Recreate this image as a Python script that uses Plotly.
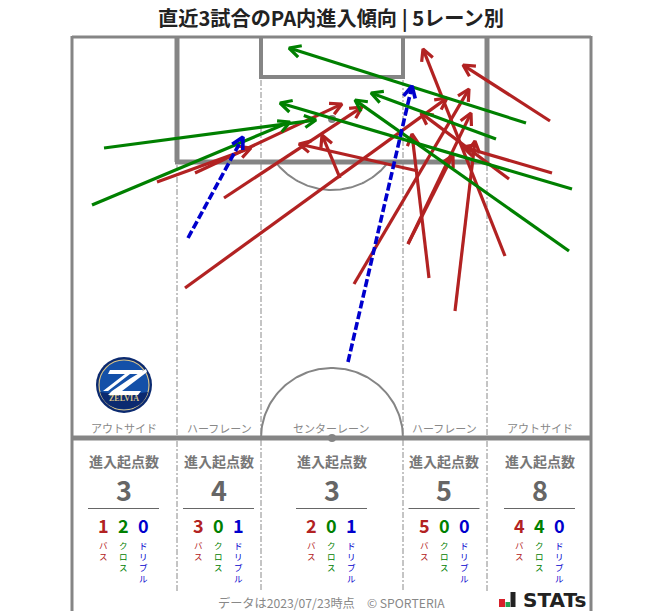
import numpy as np
import plotly.graph_objects as go

FONT = "Noto Sans CJK JP"
RED, GREEN, BLUE = "#b22222", "#008000", "#0000cd"
LINE = "#858585"

# arrows, in chart units (origin top-left of the picture)
pass_start_x = [157, 185, 224, 195, 354, 340, 429, 455, 408, 408, 418, 550, 505, 552, 509]
pass_start_y = [182, 288, 198, 173, 284, 178, 278, 311, 244, 244, 171, 121, 256, 173, 179]
pass_end_x = [251, 447, 362, 342, 469, 322, 412, 475, 471, 453, 299, 463, 423, 463, 421]
pass_end_y = [148, 98, 107, 104, 89, 135, 134, 141, 113, 155, 144, 65, 49, 147, 113]

cross_start_x = [104, 92, 526, 496, 572, 569]
cross_start_y = [148, 205, 123, 139, 189, 251]
cross_end_x = [316, 290, 289, 371, 280, 355]
cross_end_y = [120, 122, 48, 93, 103, 100]

drib_start_x = [188, 348]
drib_start_y = [238, 362]
drib_end_x = [243, 412]
drib_end_y = [137, 86]

lane_labels = ["アウトサイド", "ハーフレーン", "センターレーン", "ハーフレーン", "アウトサイド"]
lane_label_x = [124, 219, 331, 444, 540]
lane_totals = [3, 4, 3, 5, 8]
lane_pass = [1, 3, 2, 5, 4]
lane_cross = [2, 0, 0, 0, 4]
lane_drib = [0, 1, 1, 0, 0]
kinds = ["バス", "クロス", "ドリブル"]
kind_colors = [RED, GREEN, BLUE]
lane_center_x = [123.5, 218.5, 331.5, 444, 539.5]


def arrow_paths(x0, y0, x1, y1, L=11.5, W=6.0):
    sx, sy, hx, hy = [], [], [], []
    for a, b, c, d in zip(x0, y0, x1, y1):
        ux, uy = c - a, d - b
        n = np.hypot(ux, uy)
        ux, uy = ux / n, uy / n
        sx += [a, c - ux, None]
        sy += [b, d - uy, None]
        hx += [c - L * ux - W * uy, c, c - L * ux + W * uy, None]
        hy += [d - L * uy + W * ux, d, d - L * uy - W * ux, None]
    return sx, sy, hx, hy


fig = go.Figure()


def add_line(x, y, color, width, dash="solid"):
    fig.add_trace(go.Scatter(x=x, y=y, mode="lines", hoverinfo="skip", showlegend=False,
                             line=dict(color=color, width=width, dash=dash)))


# pitch arcs
t = np.linspace(0, np.pi, 90)
add_line(332 + 71 * np.cos(t), 438 - 70 * np.sin(t), LINE, 2)
t = np.arange(np.radians(37.5), np.radians(142.6), 0.02)
add_line(332 + 71 * np.cos(t), 119 + 71 * np.sin(t), LINE, 2)

# arrows
for (a, b, c, d, col, dash, w) in [
    (pass_start_x, pass_start_y, pass_end_x, pass_end_y, RED, "solid", 3.2),
    (cross_start_x, cross_start_y, cross_end_x, cross_end_y, GREEN, "solid", 3.2),
    (drib_start_x, drib_start_y, drib_end_x, drib_end_y, BLUE, "8px,3px", 3.6),
]:
    sx, sy, hx, hy = arrow_paths(a, b, c, d)
    add_line(sx, sy, col, w, dash)
    add_line(hx, hy, col, w)

shapes = []


def seg(x0, y0, x1, y1, color=LINE, width=3, dash="solid", layer="below"):
    shapes.append(dict(type="line", x0=x0, y0=y0, x1=x1, y1=y1, layer=layer,
                       line=dict(color=color, width=width, dash=dash)))


# pitch outline
seg(72, 37, 591, 37)
seg(72, 36, 72, 611)
seg(591, 36, 591, 611)
seg(72, 438, 591, 438, width=5)
# penalty area
seg(177, 37, 177, 162, width=5)
seg(487, 37, 487, 162, width=5)
seg(175, 162, 489, 162, width=5)
# goal area
seg(261, 37, 261, 77, width=4)
seg(403, 37, 403, 77, width=4)
seg(259, 77, 405, 77, width=4)
# lane separators
for x, y0 in [(177, 165), (261, 80), (403, 80), (487, 165)]:
    seg(x, y0, x, 591, color="#8a8a8a", width=1, dash="6px,2px,2px,2px")
# spots
for cy in (119, 438):
    shapes.append(dict(type="circle", x0=328, x1=336, y0=cy - 4, y1=cy + 4, layer="below",
                       fillcolor=LINE, line=dict(width=0)))

# club crest
cx, cy = 124, 385
shapes.append(dict(type="circle", x0=cx - 28, x1=cx + 28, y0=cy - 28, y1=cy + 28,
                   fillcolor="#0b2a70", line=dict(width=0)))
shapes.append(dict(type="circle", x0=cx - 25, x1=cx + 25, y0=cy - 25, y1=cy + 25,
                   fillcolor="#1450a8", line=dict(color="#d8c48a", width=1.2)))
shapes.append(dict(type="path", layer="above", fillcolor="#0b2a70", line=dict(width=0),
                   path="M 100 392 Q 124 396 148 392 Q 143 409 124 409 Q 105 409 100 392 Z"))
for p in ["M 110 370 L 143 370 L 141 374 L 130 374 L 108 391 L 103 391 L 125 374 L 108 374 Z",
          "M 131 378 L 146 369 L 147 372 L 122 391 L 141 391 L 138 395 L 108 395 L 112 391 Z"]:
    shapes.append(dict(type="path", path=p, fillcolor="#ffffff", line=dict(width=0)))

# STATs logo bars
for x0, x1, y0, col in [(499, 505, 599, "#d7202a"), (505.5, 510, 602, "#22a050"), (510.5, 515.5, 592, "#222222")]:
    shapes.append(dict(type="rect", x0=x0, x1=x1, y0=y0, y1=607, fillcolor=col, line=dict(width=0)))

# underlines in the count panels
for c in lane_center_x:
    seg(c - 35.5, 508.5, c + 35.5, 508.5, color="#666666", width=1.2)

ann = []


def text(x, y, s, size, color, bold=False, family=FONT, yanchor="middle"):
    t = f"<b>{s}</b>" if bold else s
    ann.append(dict(x=x, y=y, xref="x", yref="y", text=t, showarrow=False,
                    xanchor="center", yanchor=yanchor, borderpad=0,
                    font=dict(family=family, size=size, color=color)))


text(331, 17, "直近3試合のPA内進入傾向 | 5レーン別", 20.2, "#222222", True)
for x, s in zip(lane_label_x, lane_labels):
    text(x, 428, s, 11, "#888888")
for i, c in enumerate(lane_center_x):
    text(c, 460.5, "進入起点数", 14, "#777777", True)
    text(c, 489.5, lane_totals[i], 27, "#666666", True)
    vals = [lane_pass[i], lane_cross[i], lane_drib[i]]
    for j, (v, k, col) in enumerate(zip(vals, kinds, kind_colors)):
        px = c + (j - 1) * 20
        text(px, 525, v, 18, col, True)
        text(px, 537.5, "<br>".join(k), 8.5, col, yanchor="top")

text(331, 602.5, "データは2023/07/23時点　© SPORTERIA", 12.2, "#888888")
text(554, 600, "STATs", 20, "#222222", True, family="DejaVu Sans")
text(124, 398.5, "ZELVIA", 8, "#d8c48a", True, family="Liberation Serif")

fig.update_layout(
    width=663, height=611, margin=dict(l=0, r=0, t=0, b=0),
    paper_bgcolor="white", plot_bgcolor="white", showlegend=False,
    xaxis=dict(range=[0, 663], visible=False, fixedrange=True),
    yaxis=dict(range=[611, 0], visible=False, fixedrange=True),
    shapes=shapes, annotations=ann,
)
fig.write_html("out.html", config={"displayModeBar": False},
               post_script="document.body.style.margin='0';document.body.style.overflow='hidden';")
